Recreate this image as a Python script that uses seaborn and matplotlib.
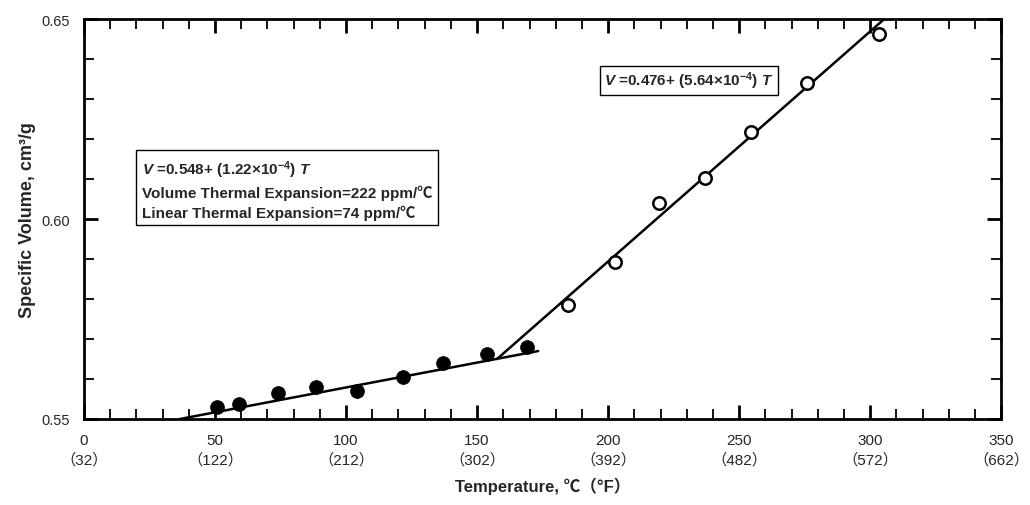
import matplotlib
matplotlib.use("Agg")
import matplotlib.pyplot as plt
from matplotlib.ticker import MultipleLocator
import seaborn as sns

# measured points (temperature in C, specific volume in cm3/g)
below_T = [50.8, 59.2, 74.0, 88.5, 104.2, 121.8, 137.0, 153.8, 169.1]
below_V = [0.5530, 0.5538, 0.5565, 0.5580, 0.5570, 0.5605, 0.5640, 0.5663, 0.5680]
above_T = [184.7, 202.7, 219.5, 237.0, 254.6, 276.0, 303.4]
above_V = [0.5785, 0.5893, 0.6040, 0.6103, 0.6218, 0.6340, 0.6463]

# fitted line endpoints
fit_low_T = [36.6, 173.3]
fit_low_V = [0.5500, 0.5670]
fit_high_T = [157.6, 305.3]
fit_high_V = [0.5650, 0.6500]

x_ticks = [0, 50, 100, 150, 200, 250, 300, 350]
x_labels_F = [32, 122, 212, 302, 392, 482, 572, 662]
y_ticks = [0.55, 0.60, 0.65]

sns.set_style("ticks")
plt.rcParams["font.family"] = ["Liberation Sans", "Noto Sans CJK JP", "DejaVu Sans"]
plt.rcParams["mathtext.fontset"] = "custom"
plt.rcParams["mathtext.rm"] = "Liberation Sans"
plt.rcParams["mathtext.it"] = "Liberation Sans:italic"
plt.rcParams["mathtext.bf"] = "Liberation Sans:bold"
plt.rcParams["mathtext.bfit"] = "Liberation Sans:italic:bold"

fig, ax = plt.subplots(figsize=(10.3, 5.06), dpi=100)
fig.subplots_adjust(left=0.0816, right=0.972, top=0.960, bottom=0.170)

sns.lineplot(x=fit_low_T, y=fit_low_V, ax=ax, color="black", linewidth=1.8)
sns.lineplot(x=fit_high_T, y=fit_high_V, ax=ax, color="black", linewidth=1.8)
sns.scatterplot(x=below_T, y=below_V, ax=ax, color="black", s=100,
                edgecolor="black", linewidth=0.5, zorder=3, clip_on=False)
sns.scatterplot(x=above_T, y=above_V, ax=ax, facecolor="white", s=80,
                edgecolor="black", linewidth=1.8, zorder=3, clip_on=False)

ax.set_xlim(0, 350)
ax.set_ylim(0.55, 0.65)
ax.set_xticks(x_ticks)
ax.set_xticklabels([f"{c}\n（{f}）" for c, f in zip(x_ticks, x_labels_F)],
                   fontsize=11, linespacing=1.4)
ax.set_yticks(y_ticks)
ax.set_yticklabels([f"{v:.2f}" for v in y_ticks], fontsize=10.5)
ax.xaxis.set_minor_locator(MultipleLocator(10))
ax.yaxis.set_minor_locator(MultipleLocator(0.01))
ax.tick_params(which="both", direction="in", top=True, right=True,
               color="black", width=1.3)
ax.tick_params(which="major", length=10, width=2)
ax.tick_params(axis="x", which="major", pad=10)
ax.tick_params(axis="y", which="major", pad=10)
ax.tick_params(which="minor", length=7)
for side in ax.spines.values():
    side.set_linewidth(2)
    side.set_color("black")

ax.set_xlabel("Temperature, ℃（°F）", fontsize=12, fontweight="bold", labelpad=8)
ax.set_ylabel("Specific Volume, cm³/g", fontsize=13, fontweight="bold", labelpad=4)

box = dict(boxstyle="square,pad=0.35", facecolor="white", edgecolor="black", linewidth=1)
ax.text(22, 0.6151,
        "$\\mathbfit{V}$ =0.548+ (1.22×10$^{\\mathbf{-4}}$) $\\mathbfit{T}$\n"
        "Volume Thermal Expansion=222 ppm/℃\n"
        "Linear Thermal Expansion=74 ppm/℃",
        fontsize=11, fontweight="bold", va="top", ha="left", linespacing=1.36,
        bbox=box)
ax.text(198.5, 0.6347, "$\\mathbfit{V}$ =0.476+ (5.64×10$^{\\mathbf{-4}}$) $\\mathbfit{T}$",
        fontsize=11, fontweight="bold", va="center", ha="left",
        bbox=dict(boxstyle="square,pad=0.25", facecolor="white", edgecolor="black", linewidth=1))

fig.savefig("out.png", dpi=100)
